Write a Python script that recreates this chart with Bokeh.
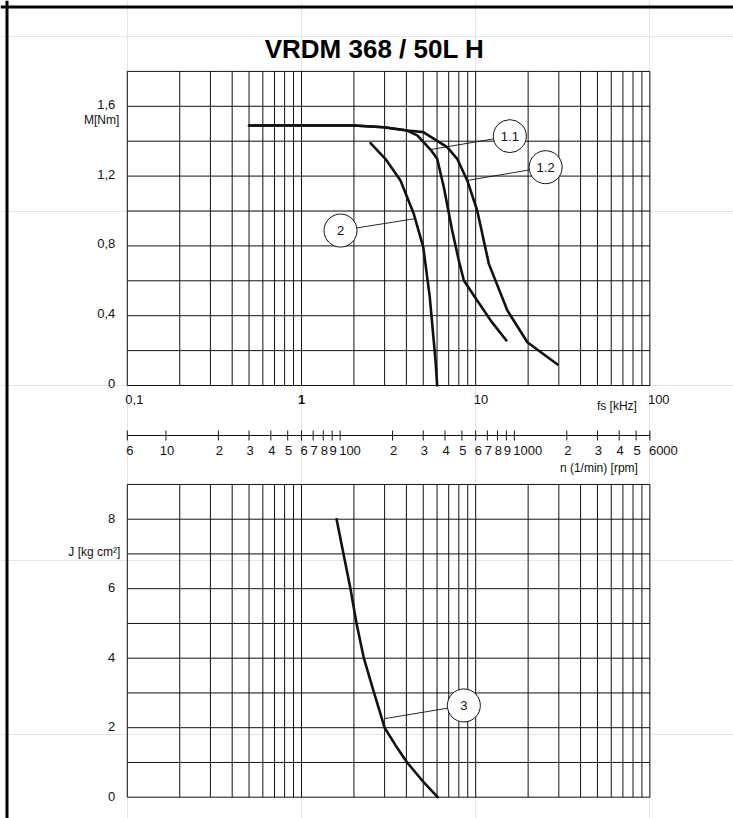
import numpy as np
from bokeh.plotting import figure
from bokeh.models import Range1d, Span
from bokeh.core.properties import value
from bokeh.embed import file_html
from bokeh.resources import INLINE

# ---------------- data ----------------
title_text = "VRDM 368 / 50L H"

# torque curves  fs [kHz] -> M [Nm]
curve_11_fs = [0.5, 1.0, 2.0, 2.97, 4.04, 4.62, 5.50, 6.01, 6.56, 7.33, 8.0, 8.55, 10.2, 12.2, 15.0]
curve_11_M = [1.49, 1.49, 1.49, 1.48, 1.461, 1.433, 1.352, 1.299, 1.136, 0.888, 0.716, 0.602, 0.487, 0.372, 0.258]

curve_12_fs = [0.5, 1.0, 2.0, 2.97, 4.04, 5.0, 6.86, 7.83, 8.94, 10.2, 11.9, 15.2, 19.8, 29.5]
curve_12_M = [1.49, 1.49, 1.49, 1.48, 1.461, 1.452, 1.366, 1.299, 1.175, 1.003, 0.697, 0.430, 0.248, 0.120]

curve_2_fs = [2.49, 3.03, 3.70, 4.41, 5.0, 5.45, 5.88, 6.01]
curve_2_M = [1.389, 1.299, 1.175, 0.984, 0.793, 0.506, 0.143, 0.0]

# inertia curve  fs [kHz] -> J [kg cm2]
curve_3_fs = [1.59, 1.91, 2.07, 2.28, 2.61, 3.0, 3.47, 4.04, 4.93, 6.05]
curve_3_J = [8.0, 6.0, 5.0, 4.0, 3.0, 2.0, 1.49, 1.0, 0.48, 0.0]

# callouts: label, circle centre, point on curve
callout_top_labels = ["1.1", "1.2", "2"]
callout_top_fs = [15.7, 25.2, 1.675]
callout_top_M = [1.429, 1.251, 0.888]
callout_top_pt_fs = [5.50, 8.94, 4.41]
callout_top_pt_M = [1.352, 1.175, 0.955]

callout_bot_labels = ["3"]
callout_bot_fs = [8.55]
callout_bot_J = [2.64]
callout_bot_pt_fs = [3.0]
callout_bot_pt_J = [2.26]

# grid / ticks
fs_grid = [0.1, 0.2, 0.3, 0.4, 0.5, 0.6, 0.7, 0.8, 0.9,
           1, 2, 3, 4, 5, 6, 7, 8, 9,
           10, 20, 30, 40, 50, 60, 70, 80, 90, 100]
M_grid = [0, 0.2, 0.4, 0.6, 0.8, 1.0, 1.2, 1.4, 1.6, 1.8]
J_grid = [0, 1, 2, 3, 4, 5, 6, 7, 8, 9]

M_ticks = [0, 0.4, 0.8, 1.2, 1.6]
M_labels = ["0", "0,4", "0,8", "1,2", "1,6"]
J_ticks = [0, 2, 4, 6, 8]
J_labels = ["0", "2", "4", "6", "8"]

fs_ticks_left = [0.1, 10, 100]
fs_labels_left = ["0,1", "10", "100"]
fs_ticks_bold = [1]
fs_labels_bold = ["1"]

rpm_ticks = [6, 10, 20, 30, 40, 50, 60, 70, 80, 90, 100, 200, 300, 400, 500, 600, 700, 800, 900,
             1000, 2000, 3000, 4000, 5000, 6000]
rpm_labels = ["6", "10", "2", "3", "4", "5", "6", "7", "8", "9", "100", "2", "3", "4", "5", "6", "7",
              "8", "9", "1000", "2", "3", "4", "5", "6000"]
rpm_left_aligned = ["6", "100", "1000", "6000"]
RPM_PER_KHZ = 60.0

# ---------------- layout (page pixels) ----------------
MARGIN = 0
W, H = 733, 818
X0, DEC = 126.8, 174.2        # page x of 0.1 kHz, pixels per decade
YM0, PX_M = 385.0, 174.5      # page y of M=0, pixels per Nm
YJ0, PX_J = 796.7, 34.75      # page y of J=0, pixels per kg cm2
RPM_AXIS_PY = 435.0


def px_to_fs(px):
    return 10 ** ((px - X0) / DEC - 1)


def py_to_M(py):
    return (YM0 - py) / PX_M


def py_to_J(py):
    return (YJ0 - py) / PX_J


FONT = value("Liberation Sans")
BLACK = "#111111"

p = figure(width=W, height=H, x_axis_type="log",
           x_range=Range1d(px_to_fs(MARGIN), px_to_fs(MARGIN + W)),
           y_range=Range1d(py_to_M(MARGIN + H), py_to_M(MARGIN)),
           x_axis_location=None, y_axis_location=None,
           toolbar_location=None, output_backend="svg", title=None,
           min_border=0, outline_line_color=None,
           background_fill_color="white", border_fill_color="white")
p.extra_y_ranges = {"J": Range1d(py_to_J(MARGIN + H), py_to_J(MARGIN))}

# outer frame (left and top)
p.add_layout(Span(location=px_to_fs(6.5), dimension="height", line_color="black", line_width=3))
p.add_layout(Span(location=py_to_M(6.5), dimension="width", line_color="black", line_width=3))

# ---------------- grids ----------------
fmin, fmax = fs_grid[0], fs_grid[-1]
p.segment(x0=fs_grid, y0=[M_grid[0]] * len(fs_grid), x1=fs_grid, y1=[M_grid[-1]] * len(fs_grid),
          line_color=BLACK, line_width=1)
p.segment(x0=[fmin] * len(M_grid), y0=M_grid, x1=[fmax] * len(M_grid), y1=M_grid,
          line_color=BLACK, line_width=1)
p.segment(x0=fs_grid, y0=[J_grid[0]] * len(fs_grid), x1=fs_grid, y1=[J_grid[-1]] * len(fs_grid),
          line_color=BLACK, line_width=1, y_range_name="J")
p.segment(x0=[fmin] * len(J_grid), y0=J_grid, x1=[fmax] * len(J_grid), y1=J_grid,
          line_color=BLACK, line_width=1, y_range_name="J")

# ---------------- curves ----------------
for xs, ys in [(curve_11_fs, curve_11_M), (curve_12_fs, curve_12_M), (curve_2_fs, curve_2_M)]:
    p.line(xs, ys, line_color=BLACK, line_width=2.6, line_join="round", line_cap="round")
p.line(curve_3_fs, curve_3_J, line_color=BLACK, line_width=2.6, line_join="round",
       line_cap="round", y_range_name="J")

# ---------------- callouts ----------------
p.segment(x0=callout_top_pt_fs, y0=callout_top_pt_M, x1=callout_top_fs, y1=callout_top_M,
          line_color=BLACK, line_width=0.9)
p.scatter(callout_top_fs, callout_top_M, marker="circle", size=33, fill_color="white",
          line_color=BLACK, line_width=1)
p.text(callout_top_fs, callout_top_M, text=callout_top_labels, text_font=FONT,
       text_font_size="13px", text_align="center", text_baseline="middle", text_color=BLACK)

p.segment(x0=callout_bot_pt_fs, y0=callout_bot_pt_J, x1=callout_bot_fs, y1=callout_bot_J,
          line_color=BLACK, line_width=0.9, y_range_name="J")
p.scatter(callout_bot_fs, callout_bot_J, marker="circle", size=33, fill_color="white",
          line_color=BLACK, line_width=1, y_range_name="J")
p.text(callout_bot_fs, callout_bot_J, text=callout_bot_labels, text_font=FONT,
       text_font_size="13px", text_align="center", text_baseline="middle", text_color=BLACK,
       y_range_name="J")

# ---------------- y tick labels ----------------
p.text([fmin] * len(M_ticks), M_ticks, text=M_labels, text_font=FONT, text_font_size="13px",
       text_align="right", text_baseline="middle", x_offset=-12, y_offset=-2, text_color=BLACK)
p.text([fmin], [M_grid[-2]], text=["M[Nm]"], text_font=FONT, text_font_size="12px",
       text_align="right", text_baseline="middle", x_offset=-8, y_offset=14, text_color=BLACK)

p.text([fmin] * len(J_ticks), J_ticks, text=J_labels, text_font=FONT, text_font_size="13px",
       text_align="right", text_baseline="middle", x_offset=-12, y_offset=-1, text_color=BLACK,
       y_range_name="J")
p.text([fmin], [7], text=["J [kg cm²]"], text_font=FONT, text_font_size="12px",
       text_align="right", text_baseline="middle", x_offset=-7, y_offset=-2, text_color=BLACK,
       y_range_name="J")

# ---------------- kHz labels ----------------
p.text(fs_ticks_left, [0] * len(fs_ticks_left), text=fs_labels_left, text_font=FONT,
       text_font_size="13px", text_align="left", text_baseline="middle", x_offset=-2, y_offset=14,
       text_color=BLACK)
p.text(fs_ticks_bold, [0], text=fs_labels_bold, text_font=FONT, text_font_size="13px",
       text_font_style="bold", text_align="center", text_baseline="middle", y_offset=14,
       text_color=BLACK)
p.text([fmax], [0], text=["fs [kHz]"], text_font=FONT, text_font_size="12px",
       text_align="right", text_baseline="middle", x_offset=-13, y_offset=20, text_color=BLACK)

# ---------------- rpm axis ----------------
rpm_fs = [r / RPM_PER_KHZ for r in rpm_ticks]
axis_M = py_to_M(RPM_AXIS_PY)
tick_half = 5.0 / PX_M
p.segment(x0=[rpm_fs[0]], y0=[axis_M], x1=[rpm_fs[-1]], y1=[axis_M], line_color=BLACK, line_width=1)
p.segment(x0=rpm_fs, y0=[axis_M - tick_half] * len(rpm_fs), x1=rpm_fs,
          y1=[axis_M + tick_half] * len(rpm_fs), line_color=BLACK, line_width=1)

lx = [f for f, t in zip(rpm_fs, rpm_labels) if t in rpm_left_aligned]
lt = [t for t in rpm_labels if t in rpm_left_aligned]
cx = [f for f, t in zip(rpm_fs, rpm_labels) if t not in rpm_left_aligned]
ct = [t for t in rpm_labels if t not in rpm_left_aligned]
p.text(lx, [axis_M] * len(lx), text=lt, text_font=FONT, text_font_size="13px",
       text_align="left", text_baseline="middle", x_offset=-1, y_offset=15, text_color=BLACK)
p.text(cx, [axis_M] * len(cx), text=ct, text_font=FONT, text_font_size="13px",
       text_align="center", text_baseline="middle", x_offset=1, y_offset=15, text_color=BLACK)
p.text([rpm_fs[-1]], [axis_M], text=["n (1/min) [rpm]"], text_font=FONT, text_font_size="12px",
       text_align="right", text_baseline="middle", x_offset=-12, y_offset=32, text_color=BLACK)

# ---------------- title ----------------
p.text([px_to_fs(374)], [py_to_M(48)], text=[title_text], text_font=FONT, text_font_size="26px",
       text_font_style="bold", text_align="center", text_baseline="alphabetic", text_color="black")

open("out.html", "w").write(file_html(p, INLINE))
